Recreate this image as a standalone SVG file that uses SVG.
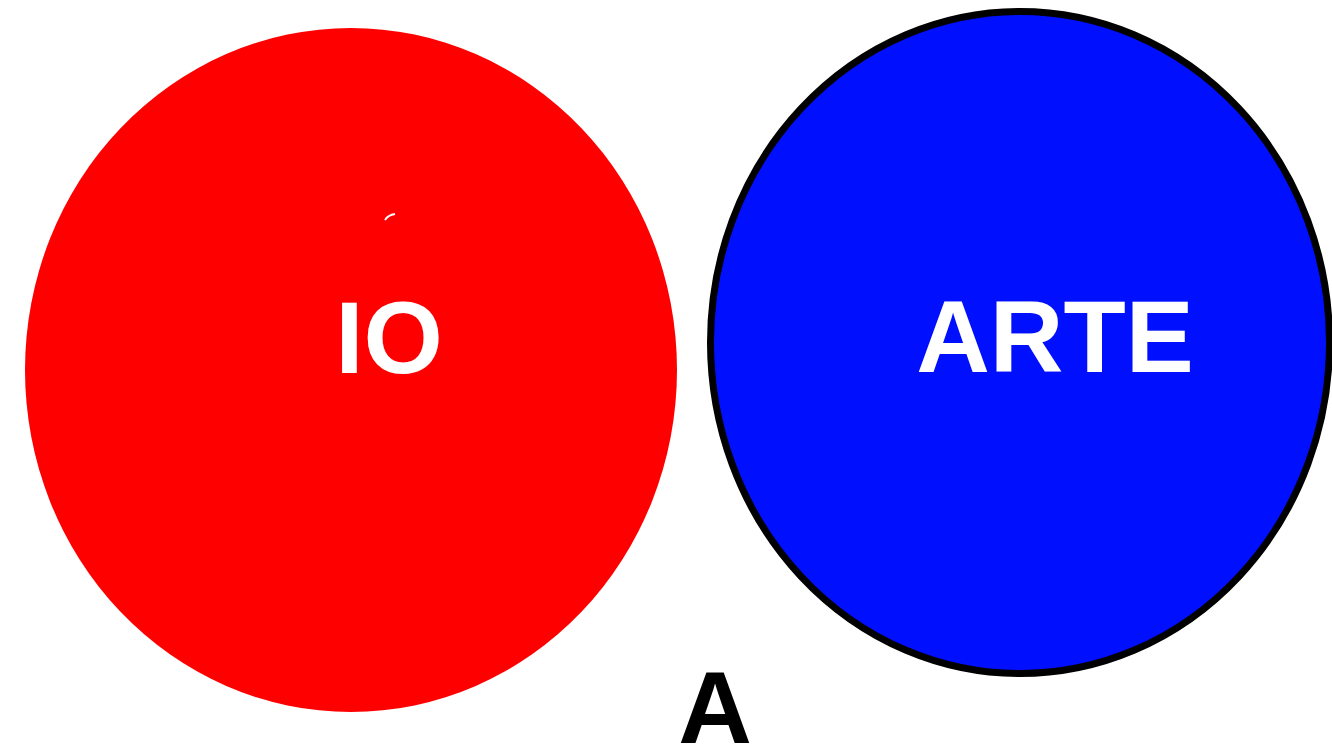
<svg xmlns="http://www.w3.org/2000/svg" width="1332" height="751" viewBox="0 0 1332 751">
<style>
.lbl{font-family:"Liberation Sans",Arial,Helvetica,sans-serif;font-weight:bold;font-size:102px;text-anchor:middle}
.w{fill:#ffffff}
.k{fill:#000000}
</style>
<rect width="1332" height="751" fill="#ffffff"/>
<g id="node-io">
<ellipse cx="351" cy="370" rx="326" ry="342" fill="#ff0000"/>
<path d="M385 220 Q388 215 395 214" stroke="#ffffff" stroke-width="2" fill="none"/>
<text class="lbl w" x="389" y="373">IO</text>
</g>
<g id="node-arte">
<ellipse cx="1020" cy="342.5" rx="309.5" ry="331" fill="#0010ff" stroke="#000000" stroke-width="7"/>
<text class="lbl w" x="1055" y="372" font-size="98">ARTE</text>
</g>
<g id="label-a">
<text class="lbl k" x="715" y="743" font-size="100">A</text>
</g>
<g id="connectors"></g>
</svg>
